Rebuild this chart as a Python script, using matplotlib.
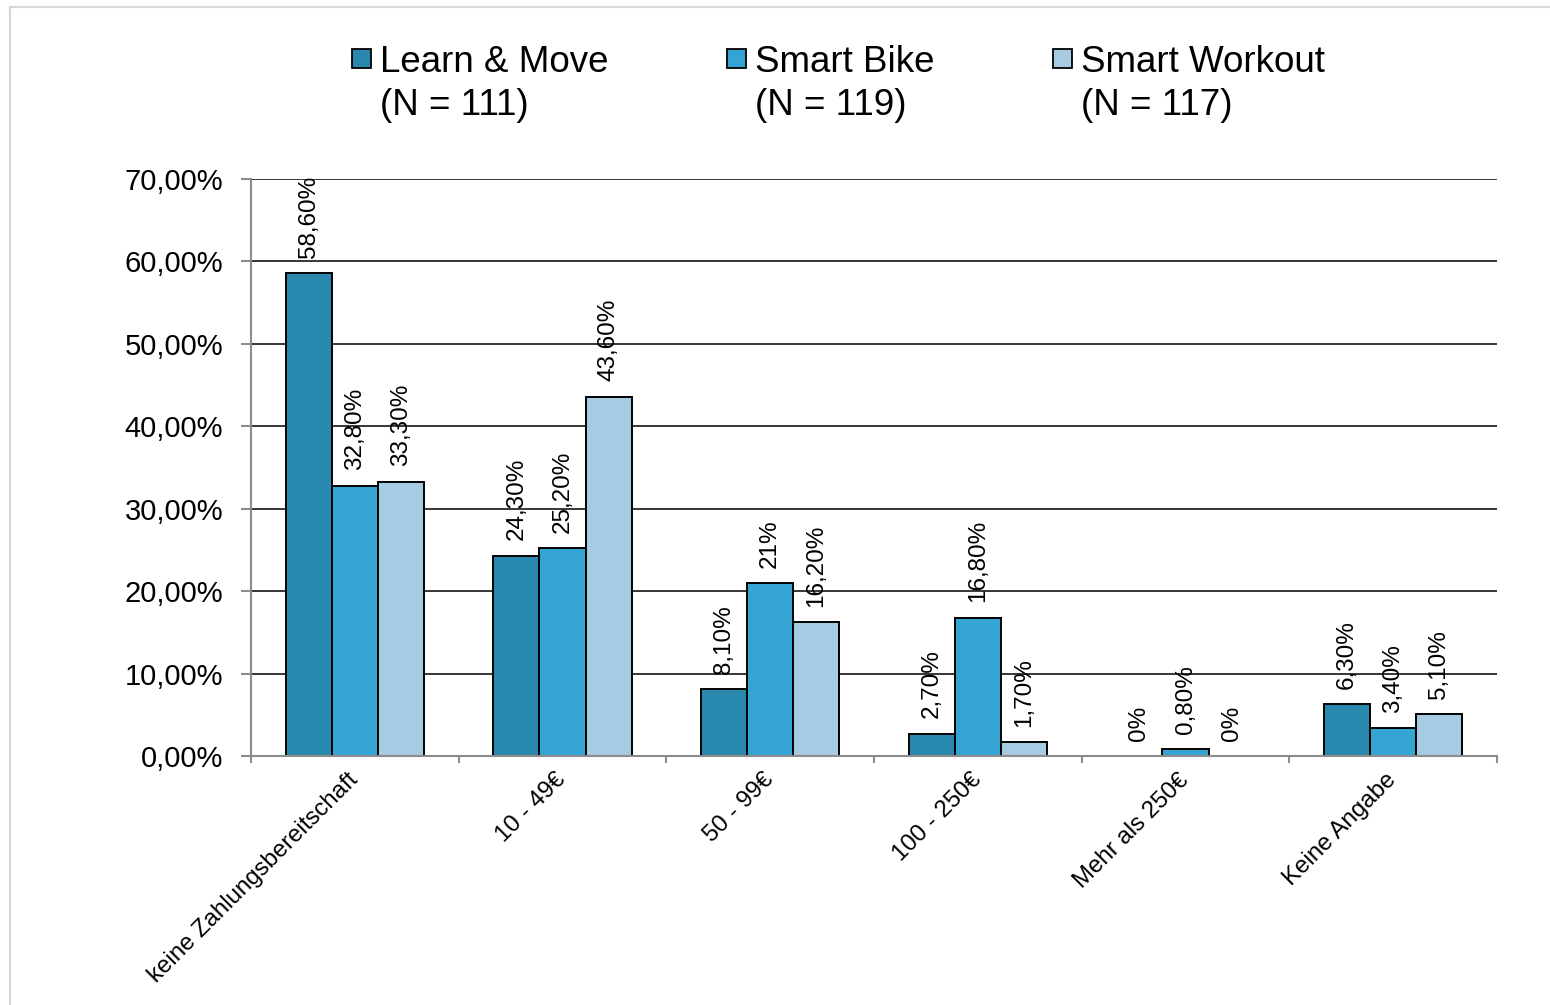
import matplotlib
matplotlib.use("Agg")
import matplotlib.pyplot as plt
from matplotlib.patches import Rectangle
import numpy as np

plt.rcParams['font.family'] = ['Liberation Sans', 'DejaVu Sans']

categories = ["keine Zahlungsbereitschaft", "10 - 49€", "50 - 99€",
              "100 - 250€", "Mehr als 250€", "Keine Angabe"]
series_names = ["Learn & Move", "Smart Bike", "Smart Workout"]
series_n = [111, 119, 117]
learn_move = [58.6, 24.3, 8.1, 2.7, 0.0, 6.3]
smart_bike = [32.8, 25.2, 21.0, 16.8, 0.8, 3.4]
smart_workout = [33.3, 43.6, 16.2, 1.7, 0.0, 5.1]
y_ticks = [0, 10, 20, 30, 40, 50, 60, 70]

colors = ["#2988AD", "#34A5D3", "#A6CCE4"]
series = [learn_move, smart_bike, smart_workout]


def pct_label(v):
    if float(v).is_integer():
        return f"{int(v)}%"
    return f"{v:.2f}".replace(".", ",") + "%"


W, H = 1550, 1005
fig = plt.figure(figsize=(W / 100, H / 100), dpi=100)
ax = fig.add_axes([251 / W, 1 - 756 / H, (1497 - 251) / W, (756 - 179) / H])

x = np.arange(len(categories))
bw = 0.222
for i, (vals, col) in enumerate(zip(series, colors)):
    pos = x + (i - 1) * bw
    ax.bar(pos, vals, width=bw, color=col, edgecolor="black",
           linewidth=1.4, zorder=3)
    for xb, v in zip(pos, vals):
        ax.annotate(pct_label(v), (xb, v), xytext=(0, 11), textcoords="offset points",
                    rotation=90, ha="center", va="bottom", fontsize=17.5, zorder=4)

ax.set_xlim(-0.5, len(categories) - 0.5)
ax.set_ylim(0, 70)
ax.set_yticks(y_ticks)
ax.set_yticklabels([f"{t},00%" for t in y_ticks], fontsize=21)
ax.yaxis.grid(True, color="black", linewidth=1.1, zorder=0)
ax.set_axisbelow(True)

ax.set_xticks(x)
ax.set_xticklabels(categories, rotation=45, ha="right", va="center",
                   rotation_mode="anchor", fontsize=17.3)
ax.set_xticks(np.arange(-0.5, len(categories)), minor=True)
ax.tick_params(axis="x", which="major", length=0, pad=15)
ax.tick_params(axis="x", which="minor", length=5, width=1.5, color="#8C8C8C")
ax.tick_params(axis="y", length=7, width=1.5, color="#8C8C8C", pad=13)

for side in ["top", "right"]:
    ax.spines[side].set_visible(False)
for side in ["left", "bottom"]:
    ax.spines[side].set_color("#8C8C8C")
    ax.spines[side].set_linewidth(1.5)
    ax.spines[side].set_zorder(5)

# legend drawn by hand: square marker beside the first line of each two-line label
leg_x = [352, 727, 1053]
for lx, name, n, col in zip(leg_x, series_names, series_n, colors):
    fig.patches.append(Rectangle((lx / W, 1 - 68 / H), 19 / W, 19 / H,
                                 transform=fig.transFigure, facecolor=col,
                                 edgecolor="black", linewidth=1.3))
    fig.text((lx + 28) / W, 1 - 72 / H, name, fontsize=26.5, va="baseline", ha="left")
    fig.text((lx + 28) / W, 1 - 115 / H, f"(N = {n})", fontsize=26.5,
             va="baseline", ha="left")

# light outer frame
fig.patches.append(Rectangle((10 / W, -0.05), 1.2, 1 - 7 / H + 0.05,
                             transform=fig.transFigure, facecolor="none",
                             edgecolor="#D5D9DC", linewidth=1.6))

fig.savefig("out.png", dpi=100)
